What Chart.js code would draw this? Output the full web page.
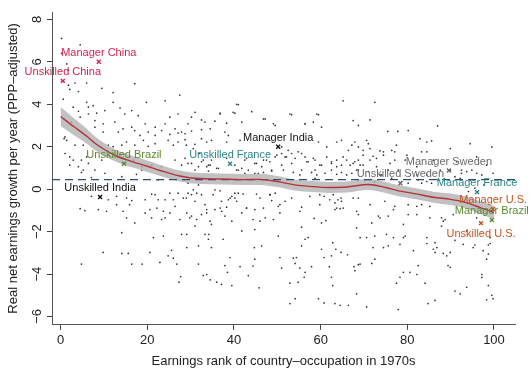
<!DOCTYPE html>
<html><head><meta charset="utf-8">
<script src="https://cdn.jsdelivr.net/npm/chart.js@4.4.0/dist/chart.umd.min.js"></script>
<style>html,body{margin:0;padding:0;background:#fff;}#wrap{width:531px;height:375px;position:relative;}</style>
</head><body><div id="wrap"><canvas id="c" width="531" height="375"></canvas></div>
<script>
const xTicks = [0, 20, 40, 60, 80, 100];
const yTicks = [-6, -4, -2, 0, 2, 4, 6, 8];
const xTitle = 'Earnings rank of country\u2013occupation in 1970s';
const yTitle = 'Real net earnings growth per year (PPP\u2013adjusted)';

// [earnings rank, growth] of each country-occupation
const scatterPoints = [
[0.2,7.1],[4.5,6.8],[0.2,6.4],[1.4,5.9],[1.8,5.6],[1.8,4.9],[2.1,4.7],[3.3,5.0],[4.1,4.6],[6.0,5.0],
[9.5,4.75],[12.1,4.55],[17.1,4.97],[27.5,4.43],[0.6,4.24],[2.9,3.86],[4.1,3.67],[6.0,4.09],[6.4,3.86],[7.5,3.93],
[8.3,3.58],[10.2,3.7],[12.1,4.09],[13.7,3.82],[14.8,3.54],[16.4,3.7],[19.8,4.09],[17.9,3.46],[24.1,4.16],[25.2,3.39],
[27.1,3.54],[30.2,3.39],[32.5,3.26],[6.4,3.54],[4.5,3.39],[2.5,3.16],[7.9,3.23],[9.8,3.08],[12.5,3.16],[14.4,2.84],
[16.4,2.92],[19.5,3.08],[21.8,2.92],[24.1,3.08],[26.4,2.84],[29.4,3.08],[32.5,2.8],[7.9,2.92],[9.8,2.69],[13.3,2.69],
[17.1,2.76],[18.3,2.53],[20.2,2.69],[21.8,2.53],[23.3,2.76],[25.2,2.58],[27.1,2.64],[28.7,2.61],[30.2,2.74],[1.0,2.46],
[1.4,2.3],[3.3,2.07],[5.2,2.07],[11.0,2.07],[12.1,2.0],[14.1,2.07],[15.2,2.22],[17.1,2.07],[19.1,2.3],[20.2,2.02],
[21.8,2.14],[24.8,2.3],[26.0,2.07],[27.1,2.22],[28.7,2.33],[31.0,2.11],[32.5,2.38],[33.7,2.22],[2.1,1.52],[2.9,1.37],
[4.8,1.37],[6.0,1.52],[9.5,1.37],[2.1,1.13],[4.1,1.06],[6.4,1.21],[7.9,0.9],[16.8,1.37],[18.7,1.06],[21.0,1.13],
[23.3,1.06],[26.4,1.37],[27.9,1.13],[29.4,1.21],[31.0,0.9],[32.5,1.29],[33.7,1.06],[5.2,0.9],[1.0,1.68],[0.8,2.38],
[41.0,3.98],[36.8,3.58],[40.2,3.58],[44.1,3.65],[35.6,3.2],[38.3,3.11],[41.8,3.16],[47.2,3.31],[49.5,3.0],[53.3,3.51],
[56.4,3.08],[58.3,3.16],[59.5,3.51],[60.2,2.92],[65.2,4.16],[67.5,3.23],[68.7,3.0],[34.5,2.84],[37.9,2.69],[38.7,2.53],
[34.8,2.3],[38.3,2.22],[41.4,2.3],[59.5,2.22],[63.7,2.22],[64.8,2.3],[61.4,1.99],[66.4,1.83],[67.2,2.07],[51.0,1.99],
[52.5,1.83],[53.3,1.68],[54.8,1.76],[56.4,1.52],[57.1,1.29],[51.8,1.52],[51.0,1.13],[53.3,1.21],[58.7,1.37],[60.2,1.13],
[62.5,1.29],[63.7,1.06],[64.8,1.13],[66.0,1.37],[67.5,1.21],[68.3,0.9],[49.5,1.52],[48.3,1.29],[46.4,1.06],[44.8,1.21],
[42.5,1.37],[41.8,0.98],[46.8,1.37],[34.8,1.37],[34.1,1.13],[36.4,0.98],[41.0,0.9],[43.3,0.9],[48.7,0.9],[55.6,0.9],
[58.7,0.9],
[72.5,4.09],[71.4,3.26],[87.0,2.98],[75.5,2.72],[77.8,2.72],[80.2,2.76],[70.6,2.3],[71.0,2.14],[82.9,2.38],[84.5,2.22],
[85.6,2.27],[94.5,2.14],[99.5,1.99],[68.7,1.99],[69.8,1.83],[73.7,1.8],[76.4,1.83],[77.1,1.76],[83.3,1.76],[72.1,1.55],
[74.5,1.6],[71.4,1.37],[69.8,1.13],[77.1,1.37],[79.5,1.37],[68.7,1.37],[72.9,1.06],[77.9,0.9],[92.5,0.9],[94.9,0.9],
[4.8,0.79],[7.1,0.55],[10.2,0.75],[14.1,0.59],[18.7,0.9],[22.5,0.43],[17.5,0.7],[7.1,-0.34],[11.0,-0.5],[12.9,-0.34],
[15.2,-0.42],[16.4,-0.54],[19.5,-0.5],[21.0,-0.23],[21.8,-0.26],[22.5,-0.5],[24.1,-0.5],[25.2,-0.19],[26.0,-0.5],[27.1,-0.19],
[28.3,-0.42],[29.4,-0.19],[30.2,-0.26],[31.0,-0.57],[32.5,-0.26],[30.6,-0.03],[29.4,0.28],[31.8,0.2],[4.5,-0.92],[5.6,-1.01],
[8.7,-0.96],[10.6,-1.04],[12.9,-0.73],[14.4,-1.04],[15.9,-0.73],[19.5,-1.12],[20.6,-0.96],[22.2,-0.89],[23.7,-1.04],[25.2,-1.12],
[26.4,-0.81],[29.1,-1.12],[30.2,-1.27],[32.5,-1.2],[33.7,-1.12],[15.2,-1.35],[17.1,-1.59],[21.0,-1.35],[23.3,-1.43],[24.1,-1.35],
[27.5,-1.43],[29.8,-1.35],[31.4,-1.43],[14.1,-2.05],[21.4,-2.28],[23.7,-2.21],[27.9,-2.13],[29.1,-2.13],[31.0,-1.74],[33.3,-2.13],
[34.1,-2.36],[29.1,-2.75],[31.8,-2.67],[25.6,-2.88],[24.8,-3.14],[26.0,-3.25],[9.8,-2.98],[14.1,-3.03],[15.6,-3.03],[20.6,-2.98],
[22.9,-3.45],[26.8,-3.53],[4.8,-3.53],[16.4,-3.53],[18.8,-3.53],[31.8,-3.53],[27.7,-4.12],[27.3,-4.38],[32.9,-4.07],[33.7,-4.02],
[34.1,0.85],[40.6,0.9],[42.5,0.75],[45.6,0.75],[48.7,0.85],[51.4,0.9],[53.7,0.79],[55.2,0.67],[57.9,0.79],[59.1,0.67],
[61.0,0.75],[62.5,0.9],[63.7,0.7],[64.8,0.79],[66.0,0.67],[67.2,0.75],[58.7,0.51],[44.8,0.75],[46.8,0.79],[35.6,-0.03],
[36.8,-0.08],[37.1,-0.57],[35.6,-0.96],[36.8,-0.89],[33.7,-0.96],[34.5,-1.51],[34.8,-1.66],[37.9,-1.27],[38.3,-0.85],[38.7,-0.5],
[39.5,-0.34],[40.2,-0.42],[41.0,-0.19],[40.6,-0.57],[41.8,-1.12],[39.5,-1.51],[42.9,-0.89],[42.1,-0.23],[45.2,-0.23],[44.8,-0.96],
[44.4,-1.43],[46.0,-1.51],[47.2,-1.35],[46.8,-0.89],[48.3,-0.26],[49.5,-0.19],[48.7,-0.54],[50.2,-0.81],[51.8,-0.57],[50.6,-1.12],
[49.1,-1.43],[44.8,-1.9],[41.8,-1.97],[34.2,-2.13],[37.5,-2.36],[34.8,-2.75],[44.7,-2.75],[46.4,-2.67],[50.2,-2.21],[55.6,-0.85],
[55.6,-1.79],[58.5,-1.38],[60.2,-1.59],[61.2,-1.48],[59.8,-0.26],[60.8,-0.34],[62.1,-0.5],[63.3,-0.65],[64.0,-0.5],[64.7,-0.42],
[63.7,-0.89],[64.5,-0.92],[63.3,-0.96],[64.8,-0.57],[68.7,-1.2],[39.1,-3.22],[41.4,-3.65],[37.9,-3.6],[44.8,-3.3],[44.4,-3.62],
[50.6,-3.22],[53.7,-3.25],[54.4,-3.22],[55.2,-3.72],[56.4,-3.92],[57.9,-3.65],[51.0,-3.72],[54.1,-3.5],[55.6,-2.67],[56.4,-2.36],
[57.1,-2.28],[60.2,-2.83],[60.8,-3.22],[62.8,-2.52],[63.5,-2.83],[64.7,-2.98],[66.2,-3.09],[62.5,-3.14],[62.0,-3.65],[67.7,-3.65],
[68.7,-3.56],[67.9,-3.84],[62.5,-4.15],[62.8,-4.54],[56.2,-4.15],[54.8,-4.38],[52.9,-4.43],[43.3,-4.07],[38.5,-3.92],[34.5,-4.27],
[36.0,-4.38],[37.1,-4.49],[39.5,-4.54],[45.8,-4.65],[52.9,-5.39],[54.1,-5.16],[59.5,-5.16],[60.8,-5.36],[63.3,-5.39],[64.5,-5.47],
[66.4,-5.47],[68.3,-4.93],
[89.9,0.9],[92.5,0.75],[96.0,0.75],[97.2,0.67],[91.0,0.59],[78.7,0.36],[80.2,0.28],[82.5,0.43],[83.3,0.28],[84.5,0.36],
[85.6,0.28],[87.1,0.43],[76.4,0.51],[74.1,0.67],[70.2,0.43],[72.5,0.36],[95.6,0.05],[94.1,-0.11],[97.7,0.2],[74.8,-0.57],
[77.1,-0.81],[80.2,-0.73],[82.2,-0.81],[83.3,-0.73],[73.3,-1.27],[75.6,-1.27],[80.2,-1.2],[85.2,-1.35],[87.9,-1.35],[88.7,-1.43],
[87.9,-1.74],[71.8,-1.59],[68.7,-0.42],[68.3,-1.82],[72.5,-2.21],[70.6,-2.28],[76.8,-2.28],[79.1,-2.28],[79.5,-2.21],[86.4,-2.52],
[84.5,-2.56],[86.0,-2.83],[86.4,-2.98],[75.6,-2.67],[74.5,-2.75],[95.2,-2.75],[95.6,-2.63],[98.7,-2.63],[99.1,-2.56],[91.0,-2.41],
[72.5,-3.3],[71.8,-3.5],[69.1,-3.53],[88.3,-3.03],[89.1,-3.14],[98.3,-3.3],[98.7,-3.06],[82.5,-3.6],[89.4,-3.6],[89.9,-3.68],
[79.1,-3.92],[80.6,-3.92],[82.2,-4.02],[78.3,-4.15],[77.5,-4.43],[84.1,-4.43],[97.2,-4.02],[97.2,-4.16],[98.7,-4.54],[91.0,-4.8],
[92.2,-4.93],[99.5,-5.0],[99.8,-5.16],[98.3,-5.21],[84.8,-5.39],[86.4,-5.24],[77.9,-5.67],[70.6,-5.55],[93.7,-4.62],
[27.9,2.69],[31.0,3.62],[33.3,3.16],[36.8,3.54],[39.8,3.62],[40.6,4.0],[46.8,3.31],[49.1,3.08],[52.9,3.54],[56.4,3.08],
[59.1,3.54],[29.0,2.07],[30.6,1.91],[32.1,1.68],[28.7,1.45],[30.2,1.21],[31.8,1.06],[32.9,1.37],[34.5,1.13],[36.0,0.98],
[38.3,1.45],[40.2,1.13],[42.9,1.45],[45.2,1.21],[47.5,1.37],[49.9,1.6],[51.0,1.68],[52.1,1.52],[54.1,1.45],[55.6,1.68],
[56.8,1.29],[58.3,1.45],[59.8,1.13],[61.4,1.52],[62.5,1.21],[63.7,1.37],[65.2,1.52],[66.8,1.13],[67.9,1.29],[68.7,0.9],
[29.0,-0.42],[31.4,-0.19],[33.3,-0.73],[35.2,-0.26],[37.2,-1.04],[39.1,-0.42],[40.2,-0.19],[42.9,-0.89],[46.0,-0.42],[48.3,-0.26],
[50.6,-0.73],[53.3,-0.42],[55.2,-1.04],[57.5,-0.34],[59.8,-0.73],[62.9,-0.26],[65.2,-0.89],[67.5,-0.42],
[67.9,2.22],[69.8,1.6],[71.4,1.91],[72.9,1.45],[74.5,1.76],[76.0,1.21],[77.5,2.07],[79.9,1.6],[82.2,1.06],[84.5,1.76],
[86.0,1.37],[87.6,0.9],[89.9,1.91],[91.4,1.29],[93.7,0.83],[96.0,1.52],[98.3,1.13],[69.1,1.13],[71.0,0.83],[73.7,0.67],
[75.6,0.9],[82.2,0.67],[84.5,0.67],[92.2,0.51],[94.5,0.43],[99.8,0.75],
[68.3,-1.04],[71.4,-0.73],[73.7,-1.35],[76.8,-0.96],[79.1,-1.66],[82.2,-1.2],[85.2,-0.81],[88.3,-1.51],[90.6,-1.2],[93.7,-1.97],
[96.0,-1.35],[99.1,-2.28],[69.1,-2.28],[72.1,-2.75],[75.2,-2.13],[78.3,-2.6],[81.4,-2.9],[84.5,-2.28],[86.8,-2.75],[89.9,-2.98],
[92.9,-2.6],[97.5,-2.9]
];

// local smoother and its confidence band
const smoothRank   = [0, 3, 6, 8, 10.5, 13, 16.5, 20, 23, 27.5, 32, 37, 42, 46, 50, 54, 58, 62, 66, 71, 75, 78, 82, 86, 90, 93, 97, 100];
const smoothGrowth = [3.42, 2.95, 2.5, 2.15, 1.82, 1.55, 1.3, 1.08, 0.88, 0.62, 0.5, 0.48, 0.45, 0.46, 0.36, 0.2, 0.12, 0.08, 0.1, 0.22, 0.08, -0.08, -0.22, -0.38, -0.48, -0.6, -0.88, -1.1];
const bandUpper    = [3.87, 3.35, 2.85, 2.47, 2.12, 1.83, 1.57, 1.35, 1.14, 0.88, 0.76, 0.74, 0.71, 0.72, 0.62, 0.46, 0.38, 0.34, 0.36, 0.48, 0.34, 0.18, 0.04, -0.12, -0.21, -0.32, -0.58, -0.78];
const bandLower    = [2.97, 2.55, 2.15, 1.83, 1.52, 1.27, 1.03, 0.81, 0.62, 0.36, 0.24, 0.22, 0.19, 0.2, 0.1, -0.06, -0.14, -0.18, -0.16, -0.04, -0.18, -0.34, -0.48, -0.64, -0.75, -0.88, -1.18, -1.42];
const meanGrowth = 0.45;

// highlighted country-occupations
const labelNames  = ['Manager China', 'Unskilled China', 'Unskilled Brazil', 'Unskilled India', 'Manager India', 'Unskilled France', 'Manager Sweden', 'Unskilled Sweden', 'Manager France', 'Manager U.S.', 'Manager Brazil', 'Unskilled U.S.'];
const labelRank   = [8.8, 0.5, 14.6, 9.1, 50.2, 39.1, 89.6, 78.4, 96.1, 99.8, 99.5, 97.0];
const labelGrowth = [6.0, 5.1, 1.2, -0.37, 2.0, 1.2, 0.88, 0.28, -0.14, -0.93, -1.45, -1.6];
const labelColors = ['#d61f4c', '#d61f4c', '#5b8a2c', '#111111', '#111111', '#2b8585', '#6a6a6a', '#6a6a6a', '#2b8585', '#c5531f', '#5b8a2c', '#c5531f'];
const labelBelow  = [false, false, false, false, false, false, false, false, false, false, false, true];

const FONT = '"Liberation Sans", Arial, Helvetica, sans-serif';
Chart.defaults.font.family = FONT;

const overlay = {
  id: 'overlay',
  afterDatasetsDraw(chart) {
    const {ctx} = chart;
    const xs = chart.scales.x, ys = chart.scales.y;
    ctx.save();
    ctx.font = '11px ' + FONT;
    ctx.textAlign = 'center';
    ctx.textBaseline = 'middle';
    labelNames.forEach((n, i) => {
      const px = xs.getPixelForValue(labelRank[i]);
      const py = ys.getPixelForValue(labelGrowth[i]);
      ctx.fillStyle = labelColors[i];
      ctx.fillText(n, px, py + (labelBelow[i] ? 11 : -9));
    });
    ctx.font = '13px ' + FONT;
    ctx.fillStyle = '#222';
    yTicks.forEach(v => {
      const py = ys.getPixelForValue(v);
      ctx.save();
      ctx.translate(xs.left - 15, py);
      ctx.rotate(-Math.PI / 2);
      ctx.fillText(v < 0 ? '\u2212' + Math.abs(v) : String(v), 0, 0);
      ctx.restore();
    });
    ctx.restore();
  }
};

const gridOpts = {display: true, drawOnChartArea: false, drawTicks: true, tickLength: 5, color: '#444', lineWidth: 1};

new Chart(document.getElementById('c'), {
  type: 'scatter',
  data: {
    datasets: [
      {
        data: scatterPoints.map(p => ({x: p[0], y: p[1]})),
        pointRadius: 0.85, pointBackgroundColor: '#333', pointBorderWidth: 0, order: 5
      },
      {
        type: 'line',
        data: smoothRank.map((r, i) => ({x: r, y: bandUpper[i]})),
        borderWidth: 0, pointRadius: 0, fill: '+1',
        backgroundColor: 'rgba(178,178,178,0.8)', cubicInterpolationMode: 'monotone', order: 3
      },
      {
        type: 'line',
        data: smoothRank.map((r, i) => ({x: r, y: bandLower[i]})),
        borderWidth: 0, pointRadius: 0, fill: false, cubicInterpolationMode: 'monotone', order: 4
      },
      {
        type: 'line',
        data: [{x: -2, y: meanGrowth}, {x: 104.85, y: meanGrowth}],
        borderColor: '#2e4c6e', borderWidth: 1.2, borderDash: [8, 5], pointRadius: 0, fill: false, order: 2
      },
      {
        type: 'line',
        data: smoothRank.map((r, i) => ({x: r, y: smoothGrowth[i]})),
        borderColor: '#b2343c', borderWidth: 1.4, pointRadius: 0, fill: false, cubicInterpolationMode: 'monotone', order: 1
      },
      {
        data: labelRank.map((r, i) => ({x: r, y: labelGrowth[i]})),
        pointStyle: 'crossRot', pointRadius: 2.8, pointBorderColor: labelColors, pointBorderWidth: 1.4,
        pointBackgroundColor: labelColors, order: 0
      }
    ]
  },
  options: {
    responsive: false, animation: false,
    layout: {padding: {left: 0, top: 12, right: 16, bottom: 6}},
    plugins: {legend: {display: false}, tooltip: {enabled: false}},
    scales: {
      x: {
        type: 'linear', min: -2, max: 104.85,
        afterBuildTicks: s => { s.ticks = xTicks.map(v => ({value: v})); },
        ticks: {font: {size: 13}, color: '#222', padding: 3, maxRotation: 0, autoSkip: false},
        grid: gridOpts,
        border: {display: true, color: '#555', width: 1},
        title: {display: true, text: xTitle, font: {size: 13}, color: '#222', padding: {top: 2, bottom: 0}}
      },
      y: {
        type: 'linear', min: -6.39, max: 8.345,
        afterBuildTicks: s => { s.ticks = yTicks.map(v => ({value: v})); },
        ticks: {display: false},
        grid: gridOpts,
        border: {display: true, color: '#555', width: 1},
        title: {display: true, text: yTitle, font: {size: 13}, color: '#222', padding: {top: 6, bottom: 25.4}}
      }
    }
  },
  plugins: [overlay]
});
</script></body></html>
